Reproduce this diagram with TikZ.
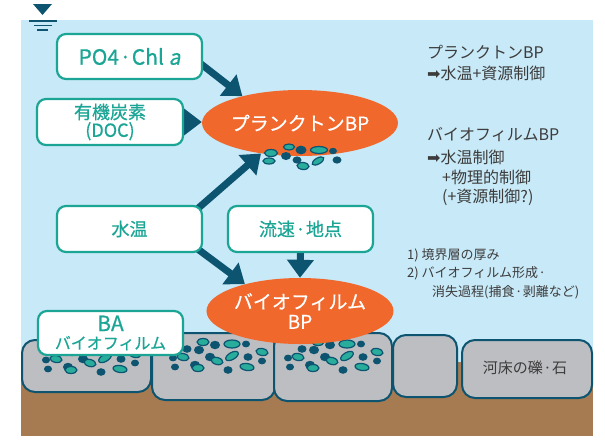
\documentclass[tikz,border=0pt]{standalone}
\usepackage{fontspec}
\setmainfont{Noto Sans CJK JP}[ItalicFont=Noto Sans CJK JP, ItalicFeatures={FakeSlant=0.2},
  BoldFont=Noto Sans CJK JP, BoldFeatures={FakeBold=0.6},
  BoldItalicFont=Noto Sans CJK JP, BoldItalicFeatures={FakeBold=0.6, FakeSlant=0.2}]
\newfontfamily\symfont{DejaVu Sans}
\usetikzlibrary{arrows.meta,shapes.geometric,calc}

\definecolor{water}{RGB}{200,233,247}
\definecolor{boxteal}{RGB}{26,165,149}
\definecolor{deep}{RGB}{12,84,112}
\definecolor{flame}{RGB}{240,104,44}
\definecolor{pebble}{RGB}{189,190,194}
\definecolor{soil}{RGB}{166,123,81}
\definecolor{algae}{RGB}{40,172,156}
\definecolor{ink}{RGB}{60,60,60}

\pgfdeclarelayer{back}
\pgfdeclarelayer{links}
\pgfsetlayers{back,links,main}

% narrow middle dot between words
\newcommand\nakaguro{\hspace{0.5pt}·\hspace{0.5pt}}

% one patch of attached cells on a stone, placed from its top-left corner
\newcommand\cellpatch[2]{%
  \begin{scope}[shift={(#1,#2)}]
    \foreach \x/\y/\r in {62/12/5, 93/11/4, 46/17/5, 34/16/4.5, 20/25/4, 57/24/5, 95/24/4.5,
                          109/28/4, 22/34/4, 42/32/5, 75/37/4.5}
      \fill[deep] (\x,\y) ellipse[x radius=\r pt, y radius=0.85*\r pt];
    \foreach \x/\y/\a/\b/\t in {50/9/6/3.5/0, 79/11/8/4/0, 30/24/6/3.5/-10, 64/28/6/3.5/-15,
                                79/23/7/3.5/30, 109/19/6/3.5/-10, 45/35/6/3.5/0, 94/34/7/3.5/-8}
      \filldraw[fill=algae, draw=deep, line width=1.2pt, rotate around={\t:(\x,\y)}]
        (\x,\y) ellipse[x radius=\a pt, y radius=\b pt];
  \end{scope}}

\begin{document}
\begin{tikzpicture}[x=1pt,y=-1pt,
  factor/.style={draw=boxteal, line width=2.2pt, fill=white, rounded corners=9pt,
    text=boxteal, align=center, inner sep=0pt, minimum width=145pt, minimum height=45pt,
    font=\fontsize{18}{18}\selectfont\bfseries},
  bp/.style={ellipse, fill=flame, text=white, inner sep=0pt, minimum width=166pt,
    minimum height=66pt, align=center, font=\fontsize{19}{20}\selectfont\bfseries},
  link/.style={draw=deep, line width=7pt, -{Triangle[length=18pt,width=26pt]}},
  stone/.style={draw=deep, line width=2pt, fill=pebble, rounded corners=13pt},
  note/.style={anchor=west, inner sep=0pt, text=ink, font=\fontsize{16}{16}\selectfont},
  small/.style={note, font=\fontsize{13}{13}\selectfont}]

\useasboundingbox (0,0) rectangle (605,440);

\begin{pgfonlayer}{back}
  % water body and river bed
  \fill[water] (21,20) rectangle (593,436);
  \fill[soil] (21,362) rectangle (593,436);
  % gravel and stones
  \draw[stone] (22,340) rectangle (151,392);
  \draw[stone] (152,333) rectangle (275,400);
  \draw[stone] (274,333) rectangle (392,401);
  \draw[stone] (393,335) rectangle (457,397);
  \draw[stone] (462,340) rectangle (592,398);
  % biofilm on the upper stones
  \cellpatch{26}{335}
  \cellpatch{153}{333}
  \cellpatch{268}{333}
  % water surface mark
  \fill[deep] (33,4) -- (52,4) -- (42.5,15) -- cycle;
  \draw[deep, line width=1.6pt] (29,21) -- (57,21) (34,25.5) -- (52,25.5) (37,30) -- (48,30);
\end{pgfonlayer}

% factors
\node[factor, font=\fontsize{21}{21}\selectfont\bfseries] (po4) at (129.5,56.5) {PO4\nakaguro Chl \textit{a}};
\node[factor, minimum width=146pt, minimum height=46pt] (doc) at (110,122) {有機炭素\\(DOC)};
\node[factor, minimum height=46pt] (temp) at (129.5,229) {水温};
\node[factor, minimum height=46pt] (flow) at (300.5,229) {流速\nakaguro 地点};
\node[factor, minimum height=44pt] (ba) at (110.5,333)
  {{\fontsize{21}{21}\selectfont BA}\\{\fontsize{16}{16}\selectfont バイオフィルム}};

% bacterial production
\node[bp] (pbp) at (300,123) {プランクトンBP};
\node[bp] (fbp) at (300,311) {バイオフィルム\\BP};

% suspended cells under the plankton ellipse
\foreach \x/\y/\r in {301/150/5.5, 286/156/5, 297/160/4.5, 333/151/4, 337/160/4.5}
  \fill[deep] (\x,\y) ellipse[x radius=\r pt, y radius=0.8*\r pt];
\foreach \x/\y/\a/\b/\t in {271/153/6.5/3.5/0, 289/147/5.5/3/0, 319/150/8.5/3.5/0,
                            269/161/6/3/0, 303/166/6/3.5/-5, 318/161/6.5/3/30}
  \filldraw[fill=algae, draw=deep, line width=1.2pt, rotate around={\t:(\x,\y)}]
    (\x,\y) ellipse[x radius=\a pt, y radius=\b pt];

% influences
\begin{pgfonlayer}{links}
  \draw[link] ([shift={(-4,6)}]po4.east) -- (pbp.155);
  \draw[link] (doc.east) -- (doc.east -| pbp.west);
  \draw[link] ([shift={(-8,6)}]temp.north east) -- (pbp.218);
  \draw[link] ([shift={(-8,-6)}]temp.south east) -- (fbp.154);
  \draw[link] (flow.south) -- (fbp.north);
\end{pgfonlayer}

% controls
\node[note] (r1) at (427,52) {プランクトンBP};
\node[note] (r2) at (427,73) {{\symfont ➡}水温+資源制御};
\node[note] (r3) at (427,135) {バイオフィルムBP};
\node[note] (r4) at (427,157) {{\symfont ➡}水温制御};
\node[note] (r5) at (442,177) {+物理的制御};
\node[note] (r6) at (442,197) {(+資源制御?)};

\node[small] (n1) at (407,255) {1) 境界層の厚み};
\node[small] (n2) at (407,273) {2) バイオフィルム形成\nakaguro};
\node[small] (n3) at (432,292) {消失過程(捕食\nakaguro 剥離など)};

\node[text=ink, font=\fontsize{15}{15}\selectfont] (bed) at (525,368) {河床の礫\nakaguro 石};
\end{tikzpicture}
\end{document}
